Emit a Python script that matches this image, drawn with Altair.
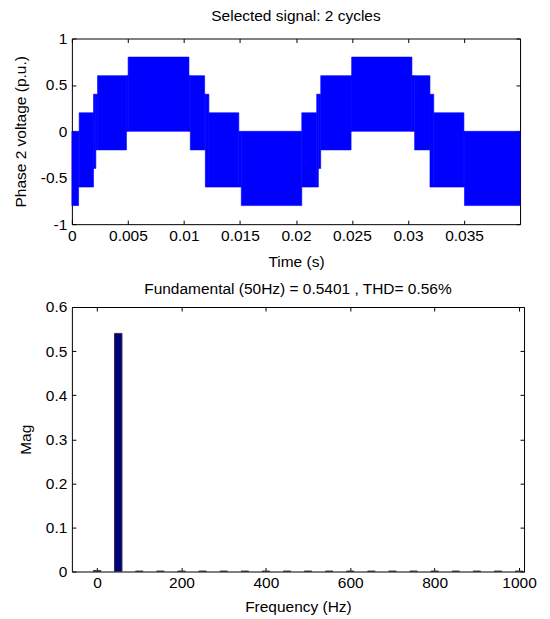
import altair as alt
import pandas as pd

# ---- Top panel: PWM phase voltage, read as upper / lower envelopes (step functions)
T_END = 0.04
upper_t = [0.0, 0.00065, 0.00193, 0.00229, 0.00502, 0.01045, 0.01185, 0.01223, 0.0149,
           0.02052, 0.02185, 0.02221, 0.02497, 0.03035, 0.03196, 0.0323, 0.03499]
upper_v = [0.0, 0.2, 0.4, 0.6, 0.8, 0.6, 0.4, 0.2, 0.0,
           0.2, 0.4, 0.6, 0.8, 0.6, 0.4, 0.2, 0.0]
lower_t = [0.0, 0.0006, 0.00193, 0.00214, 0.00487, 0.01057, 0.01191, 0.01512,
           0.02052, 0.022, 0.02221, 0.02492, 0.03059, 0.03196, 0.03504]
lower_v = [-0.8, -0.6, -0.4, -0.2, 0.0, -0.2, -0.6, -0.8,
           -0.6, -0.4, -0.2, 0.0, -0.2, -0.6, -0.8]

time_ticks = [0, 0.005, 0.01, 0.015, 0.02, 0.025, 0.03, 0.035]
volt_ticks = [-1, -0.5, 0, 0.5, 1]

# ---- Bottom panel: FFT spectrum
freqs = [0, 50, 100, 150, 200, 250, 300, 350, 400, 450, 500, 550, 600, 650, 700,
         750, 800, 850, 900, 950, 1000]
mags = [0.002, 0.5401, 0.001, 0.001, 0.001, 0.001, 0.001, 0.001, 0.001, 0.001, 0.001,
        0.001, 0.001, 0.001, 0.001, 0.001, 0.001, 0.001, 0.001, 0.001, 0.001]
freq_ticks = [0, 200, 400, 600, 800, 1000]
mag_ticks = [0, 0.1, 0.2, 0.3, 0.4, 0.5, 0.6]


def step_at(ts, vs, t):
    v = vs[0]
    for ti, vi in zip(ts, vs):
        if ti <= t:
            v = vi
    return v


breaks = sorted(set(upper_t + lower_t + [T_END]))
rows = []
for a, b in zip(breaks[:-1], breaks[1:]):
    rows.append({"t0": a, "t1": b,
                 "lo": step_at(lower_t, lower_v, a),
                 "hi": step_at(upper_t, upper_v, a)})
seg = pd.DataFrame(rows)
spec = pd.DataFrame({"freq": freqs, "mag": mags})

FONT = "Liberation Sans"
FS = 15.5
LBL = "'' + datum.value"


def main_axis(values, title, orient, tpad, lpad):
    return alt.Axis(values=values, title=title, orient=orient, domain=False,
                    ticks=True, tickSize=4, offset=-4, tickColor="black",
                    labelPadding=lpad, labelExpr=LBL, labelOverlap=False,
                    labelFlush=False, grid=False, titlePadding=tpad)


def mirror_axis(values, orient):
    return alt.Axis(values=values, title=None, orient=orient, domain=False,
                    ticks=True, tickSize=4, offset=-4, tickColor="black",
                    labels=False, grid=False)


xs_t = alt.Scale(domain=[0, 0.04], nice=False, zero=False)
ys_t = alt.Scale(domain=[-1, 1], nice=False)

top_main = alt.Chart(seg).mark_rect(color="#0000FF", stroke="#0000FF", strokeWidth=0.6).encode(
    x=alt.X("t0:Q", scale=xs_t, axis=main_axis(time_ticks, "Time (s)", "bottom", 10.5, 4.5)),
    x2="t1:Q",
    y=alt.Y("lo:Q", scale=ys_t,
            axis=main_axis(volt_ticks, "Phase 2 voltage (p.u.)", "left", 12, 5)),
    y2="hi:Q",
)
top_mirror = alt.Chart(seg).mark_rect(opacity=0).encode(
    x=alt.X("t0:Q", scale=xs_t, axis=mirror_axis(time_ticks, "top")),
    y=alt.Y("lo:Q", scale=ys_t, axis=mirror_axis(volt_ticks, "right")),
)
top = alt.layer(top_main, top_mirror).resolve_axis(x="independent", y="independent").properties(
    width=449, height=186,
    title=alt.TitleParams("Selected signal: 2 cycles", fontSize=FS, font=FONT,
                          fontWeight="normal", offset=7),
)

xs_f = alt.Scale(domain=[-48, 1000], nice=False, zero=False)
ys_f = alt.Scale(domain=[0, 0.6], nice=False)

bot_main = alt.Chart(spec).mark_bar(size=7.5, color="#000080", stroke="#333333",
                                    strokeWidth=1).encode(
    x=alt.X("freq:Q", scale=xs_f,
            axis=main_axis(freq_ticks, "Frequency (Hz)", "bottom", 8.5, 4)),
    y=alt.Y("mag:Q", scale=ys_f, axis=main_axis(mag_ticks, "Mag", "left", 12, 5)),
)
bot_mirror = alt.Chart(spec).mark_point(opacity=0).encode(
    x=alt.X("freq:Q", scale=xs_f, axis=mirror_axis(freq_ticks, "top")),
    y=alt.Y("mag:Q", scale=ys_f, axis=mirror_axis(mag_ticks, "right")),
)
bot = alt.layer(bot_main, bot_mirror).resolve_axis(x="independent", y="independent").properties(
    width=453, height=265,
    title=alt.TitleParams("Fundamental (50Hz) = 0.5401 , THD= 0.56%", fontSize=FS,
                          font=FONT, fontWeight="normal", offset=3),
)

chart = alt.vconcat(top, bot, spacing=10).properties(
    padding={"left": 4, "top": 0, "right": 5, "bottom": 0}
).configure_view(stroke="black", strokeWidth=1).configure_axis(
    labelFont=FONT, titleFont=FONT, labelFontSize=FS, titleFontSize=FS,
    labelColor="black", titleColor="black", titleFontWeight="normal"
).configure_concat(spacing=10)

chart.save("out.html", embed_options={"renderer": "svg", "actions": False})
